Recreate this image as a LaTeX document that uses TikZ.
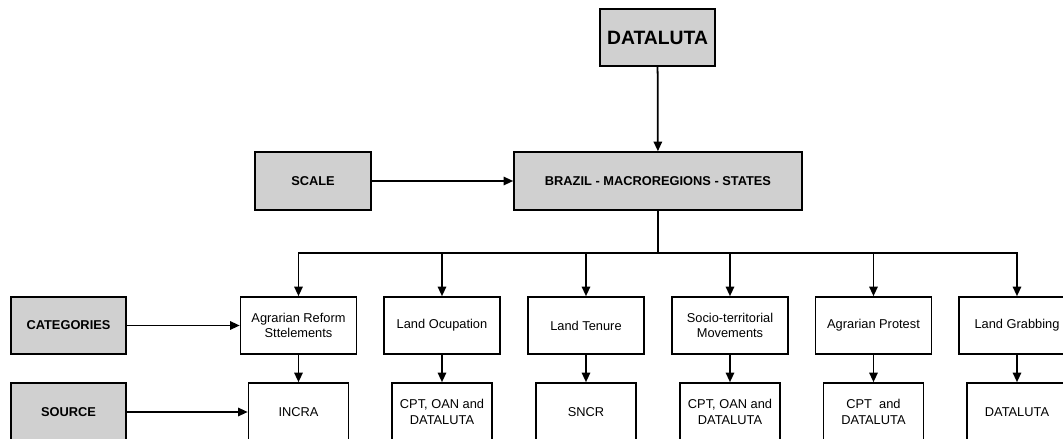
\documentclass[tikz,border=0pt]{standalone}
\usepackage{fontspec}
\setmainfont{Liberation Sans}
\usetikzlibrary{arrows.meta}
\definecolor{boxgray}{HTML}{D0D0D0}

\begin{document}
\begin{tikzpicture}[x=0.02cm, y=-0.02cm,
    every node/.style={draw, line width=0.9pt, inner sep=0pt, align=center,
      font=\fontsize{7.3}{9}\selectfont},
    gbox/.style={fill=boxgray, font=\fontsize{7.3}{9}\selectfont\bfseries,
      minimum width=115*0.02cm, minimum height=57*0.02cm},
    cbox/.style={minimum width=116*0.02cm, minimum height=57*0.02cm},
    sbox/.style={minimum width=100*0.02cm, minimum height=58*0.02cm},
    arr/.style={line width=1pt, -{Triangle[length=5.5pt,width=4.8pt]}}]
  \useasboundingbox (0,0) rectangle (1063,439);
  \clip (0,0) rectangle (1063,439);
  \node[gbox, font=\fontsize{11}{13}\selectfont\bfseries] (dataluta) at (657.5,37.5) {DATALUTA};
  \node[gbox, minimum width=288*0.02cm, minimum height=58*0.02cm] (brazil) at (658,181) {BRAZIL - MACROREGIONS - STATES};
  \node[gbox, minimum width=116*0.02cm, minimum height=58*0.02cm] (scale) at (313,181) {SCALE};
  \node[gbox] (categories) at (68.5,325.5) {CATEGORIES};
  \node[gbox, minimum height=58*0.02cm] (source) at (68.5,412) {SOURCE};

  \node[cbox] (settlements) at (298.5,325.5) {Agrarian Reform\\Sttelements};
  \node[cbox] (ocupation) at (442,325.5) {Land Ocupation};
  \node[cbox] (tenure) at (586,325.5) {Land Tenure};
  \node[cbox] (movements) at (730,325.5) {Socio-territorial\\Movements};
  \node[cbox] (protest) at (873.5,325.5) {Agrarian Protest};
  \node[cbox] (grabbing) at (1017,325.5) {Land Grabbing};

  \node[sbox] (incra) at (298.5,412) {INCRA};
  \node[sbox] (ocusrc) at (442,412) {CPT, OAN and\\DATALUTA};
  \node[sbox] (sncr) at (586,412) {SNCR};
  \node[sbox] (movsrc) at (730,412) {CPT, OAN and\\DATALUTA};
  \node[sbox] (protsrc) at (873.5,412) {CPT\ \ and\\DATALUTA};
  \node[sbox] (grabsrc) at (1017,412) {DATALUTA};

  \coordinate (bus) at (658,253);
  \draw[arr] (dataluta) -- (brazil);
  \draw[arr] (scale) -- (brazil);
  \draw[line width=1pt] (brazil) -- (bus);
  \foreach \c/\s in {settlements/incra, ocupation/ocusrc, tenure/sncr,
                     movements/movsrc, protest/protsrc, grabbing/grabsrc}{
    \draw[arr] (bus) -| (\c);
    \draw[arr] (\c) -- (\s);
  }
  \draw[arr] (categories) -- (settlements);
  \draw[arr] (source) -- (incra);
\end{tikzpicture}
\end{document}
